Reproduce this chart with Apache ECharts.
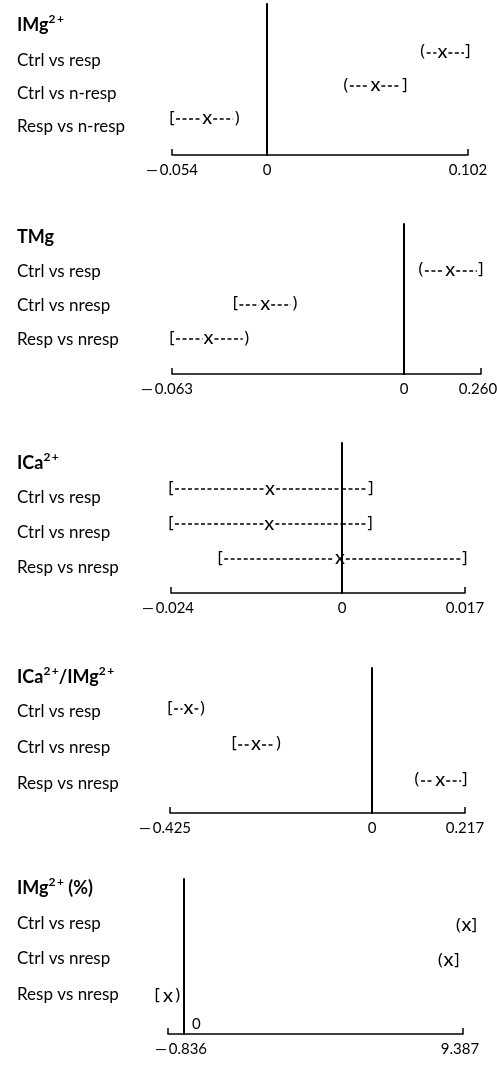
<!DOCTYPE html>
<html><head><meta charset="utf-8">
<script src="https://cdn.jsdelivr.net/npm/echarts@6/dist/echarts.min.js"></script>
<style>html,body{margin:0;padding:0;background:#fff}#c{width:497px;height:1067px}</style>
</head><body><div id="c"></div>
<script>
// ---------- data ----------
const panelTitles = ['IMg²⁺', 'TMg', 'ICa²⁺', 'ICa²⁺/IMg²⁺', 'IMg²⁺ (%)'];
const rowLabels = [
  ['Ctrl vs resp', 'Ctrl vs n-resp', 'Resp vs n-resp'],
  ['Ctrl vs resp', 'Ctrl vs nresp', 'Resp vs nresp'],
  ['Ctrl vs resp', 'Ctrl vs nresp', 'Resp vs nresp'],
  ['Ctrl vs resp', 'Ctrl vs nresp', 'Resp vs nresp'],
  ['Ctrl vs resp', 'Ctrl vs nresp', 'Resp vs nresp']
];
const axisMin = [-0.054, -0.063, -0.024, -0.425, -0.836];
const axisMax = [0.102, 0.260, 0.017, 0.217, 9.387];
const lowerLimit = [
  [0.079, 0.040, -0.054],
  [0.057, -0.0458, -0.063],
  [-0.024, -0.024, -0.0171],
  [-0.425, -0.290, 0.105],
  [9.23, 8.63, -1.40]
];
const estimate = [
  [0.089, 0.055, -0.034],
  [0.156, -0.0377, -0.0531],
  [-0.0101, -0.0102, -0.0003],
  [-0.386, -0.244, 0.159],
  [9.50, 8.90, -0.836]
];
const upperLimit = [
  [0.102, 0.070, -0.017],
  [0.260, -0.0296, -0.0427],
  [0.0040, 0.0039, 0.017],
  [-0.357, -0.197, 0.217],
  [9.77, 9.18, -0.335]
];
const lowerBracket = [['(', '(', '['], ['(', '[', '['], ['[', '[', '['], ['[', '[', '('], ['(', '(', '[']];
const upperBracket = [[']', ']', ')'], [']', ')', ')'], [']', ']', ']'], [')', ')', ']'], [']', ']', ')']];

// ---------- layout (pixels / styling only) ----------
const layout = [
  {top: 4,   axisY: 155,  left: 172, zero: 267, right: 468, yMin: -0.45, yMax: 4.12, titleY: 25,  labelShift: 9,  minLabelShift: 0,  maxLabelShift: 0,  zeroLabelAbove: false},
  {top: 224, axisY: 374,  left: 172, zero: 404, right: 481, yMin: -0.35, yMax: 4.06, titleY: 237, labelShift: 2,  minLabelShift: -5, maxLabelShift: -3, zeroLabelAbove: false},
  {top: 443, axisY: 593,  left: 171, zero: 342, right: 465, yMin: -0.29, yMax: 4.00, titleY: 463, labelShift: 9,  minLabelShift: -3, maxLabelShift: 0,  zeroLabelAbove: false},
  {top: 668, axisY: 813,  left: 170, zero: 372, right: 465, yMin: -0.11, yMax: 3.92, titleY: 677, labelShift: 4,  minLabelShift: -5, maxLabelShift: 0,  zeroLabelAbove: false},
  {top: 879, axisY: 1034, left: 168, zero: 184, right: 463, yMin: -0.31, yMax: 4.11, titleY: 888, labelShift: -1, minLabelShift: 13, maxLabelShift: -3, zeroLabelAbove: true}
];
const FONT = 'Lato';
const BR_FONT = '16px "Noto Sans"';
const X_FONT = '20px Lato';
const BR_GAP = 4, X_GAP = 6, DASH_DY = 1;

function fmtTick(v) {
  if (Math.abs(v) < 1e-12) return '0';
  const s = Math.abs(v).toFixed(3);
  return v < 0 ? '\u2014\u2009' + s : s;
}
function richTitle(t) {
  return t.split(/(²⁺)/).filter(s => s).map(s => s === '²⁺' ? '{s|2\u2009+}' : '{t|' + s + '}').join('');
}
function shiftPad(ms) { return [0, ms < 0 ? -2 * ms : 0, 0, ms > 0 ? 2 * ms : 0]; }

function renderer(p, side) {
  return function (params, api) {
    const i = params.dataIndex;
    const row = api.value(0), lo = api.value(1), est = api.value(2), hi = api.value(3);
    const px = v => api.coord([v, row])[0];
    const yC = api.coord([0, row])[1];
    const zeroPx = px(0);
    const inSide = v => side === 'L' ? v <= 0 : v > 0;
    const children = [];
    function seg(a, b, ga, gb) {
      let x1 = px(a) + ga, x2 = px(b) - gb;
      if (side === 'L') x2 = Math.min(x2, zeroPx); else x1 = Math.max(x1, zeroPx);
      if (x2 - x1 > 1) children.push({type: 'line', shape: {x1: x1, y1: yC + DASH_DY, x2: x2, y2: yC + DASH_DY},
        style: {stroke: '#000', lineWidth: 1.5, lineDash: [4, 2.5]}});
    }
    seg(lo, est, BR_GAP, X_GAP);
    seg(est, hi, X_GAP, BR_GAP);
    const txt = (t, x, f) => ({type: 'text', x: x, y: yC, style: {text: t, fill: '#000', font: f, align: 'center', verticalAlign: 'middle'}});
    if (inSide(lo)) children.push(txt(lowerBracket[p][i], px(lo), BR_FONT));
    if (inSide(est)) children.push(txt('x', px(est), X_FONT));
    if (inSide(hi)) children.push(txt(upperBracket[p][i], px(hi), BR_FONT));
    return {type: 'group', children: children};
  };
}

const grids = [], xAxes = [], yAxes = [], series = [], titles = [];
layout.forEach((L, p) => {
  const gL = grids.length, gR = gL + 1;
  const h = L.axisY - L.top;
  grids.push({left: L.left, top: L.top, width: L.zero - L.left, height: h, containLabel: false, outerBoundsMode: 'none'});
  grids.push({left: L.zero, top: L.top, width: L.right - L.zero, height: h, containLabel: false, outerBoundsMode: 'none'});
  const common = {
    type: 'value', position: 'bottom', splitLine: {show: false},
    axisLine: {show: true, onZero: false, lineStyle: {color: '#000', width: 1.5}},
    axisTick: {show: true, inside: true, length: 6, lineStyle: {color: '#000', width: 1.5}}
  };
  const lblStyle = {color: '#000', fontFamily: FONT, fontSize: 15, margin: 8, showMinLabel: true, showMaxLabel: true};
  const xL = xAxes.length;
  xAxes.push(Object.assign({}, common, {gridIndex: gL, min: axisMin[p], max: 0, interval: -axisMin[p],
    axisLabel: Object.assign({}, lblStyle, {
      formatter: v => {
        if (Math.abs(v) < 1e-12) return L.zeroLabelAbove ? '' : '0';
        return '{m|' + fmtTick(v) + '}';
      },
      rich: {m: {color: '#000', fontFamily: FONT, fontSize: 15, padding: shiftPad(L.minLabelShift)}}
    })}));
  const xR = xAxes.length;
  xAxes.push(Object.assign({}, common, {gridIndex: gR, min: 0, max: axisMax[p], interval: axisMax[p],
    axisLabel: Object.assign({}, lblStyle, {
      formatter: v => Math.abs(v) < 1e-12 ? '' : '{m|' + fmtTick(v) + '}',
      rich: {m: {color: '#000', fontFamily: FONT, fontSize: 15, padding: shiftPad(L.maxLabelShift)}}
    })}));
  if (L.zeroLabelAbove) {
    xAxes.push({type: 'value', gridIndex: gR, position: 'bottom', min: 0, max: axisMax[p], interval: axisMax[p],
      axisLine: {show: false, onZero: false}, axisTick: {show: false}, splitLine: {show: false},
      axisLabel: {inside: true, margin: 2, color: '#000', fontFamily: FONT, fontSize: 15, align: 'left', showMinLabel: true,
        formatter: v => Math.abs(v) < 1e-12 ? '{z|0}' : '',
        rich: {z: {color: '#000', fontFamily: FONT, fontSize: 15, padding: [0, 0, 0, 8]}}}});
  }
  const yBase = {type: 'value', inverse: true, minInterval: 1, maxInterval: 1, splitLine: {show: false}, axisTick: {show: false}};
  const rowPx = h / (L.yMax - L.yMin);
  const shiftU = L.labelShift / rowPx;
  // data axis (hidden labels)
  const yL = yAxes.length;
  yAxes.push(Object.assign({}, yBase, {gridIndex: gL, min: L.yMin, max: L.yMax, axisLine: {show: false, onZero: false}, axisLabel: {show: false}}));
  // label axis (row names, slightly offset as in the original)
  yAxes.push(Object.assign({}, yBase, {gridIndex: gL, position: 'left', min: L.yMin - shiftU, max: L.yMax - shiftU,
    axisLine: {show: false, onZero: false},
    axisLabel: {show: true, align: 'left', margin: L.left - 17, color: '#000', fontFamily: FONT, fontSize: 17,
      formatter: v => (Math.abs(v - Math.round(v)) < 1e-9 ? rowLabels[p][Math.round(v) - 1] : '') || ''}}));
  const yR = yAxes.length;
  yAxes.push(Object.assign({}, yBase, {gridIndex: gR, min: L.yMin, max: L.yMax, axisLine: {show: true, onZero: false, lineStyle: {color: '#000', width: 2}},
    axisLabel: {show: false}}));
  const data = [0, 1, 2].map(r => [r + 1, lowerLimit[p][r], estimate[p][r], upperLimit[p][r]]);
  series.push({type: 'custom', xAxisIndex: xL, yAxisIndex: yL, data: data, encode: {x: [1, 2, 3], y: 0},
    renderItem: renderer(p, 'L'), clip: false, silent: true});
  series.push({type: 'custom', xAxisIndex: xR, yAxisIndex: yR, data: data, encode: {x: [1, 2, 3], y: 0},
    renderItem: renderer(p, 'R'), clip: false, silent: true});
  titles.push({text: richTitle(panelTitles[p]), left: 17, top: L.titleY - 12, padding: 0,
    textStyle: {rich: {
      t: {fontFamily: FONT, fontSize: 18, fontWeight: 'bold', color: '#000', lineHeight: 24},
      s: {fontFamily: FONT, fontSize: 12, fontWeight: 'bold', color: '#000', verticalAlign: 'top', lineHeight: 13}
    }}});
});

const chart = echarts.init(document.getElementById('c'), null, {renderer: 'canvas'});
chart.setOption({
  backgroundColor: '#fff', animation: false,
  title: titles, grid: grids, xAxis: xAxes, yAxis: yAxes, series: series
});
</script></body></html>
